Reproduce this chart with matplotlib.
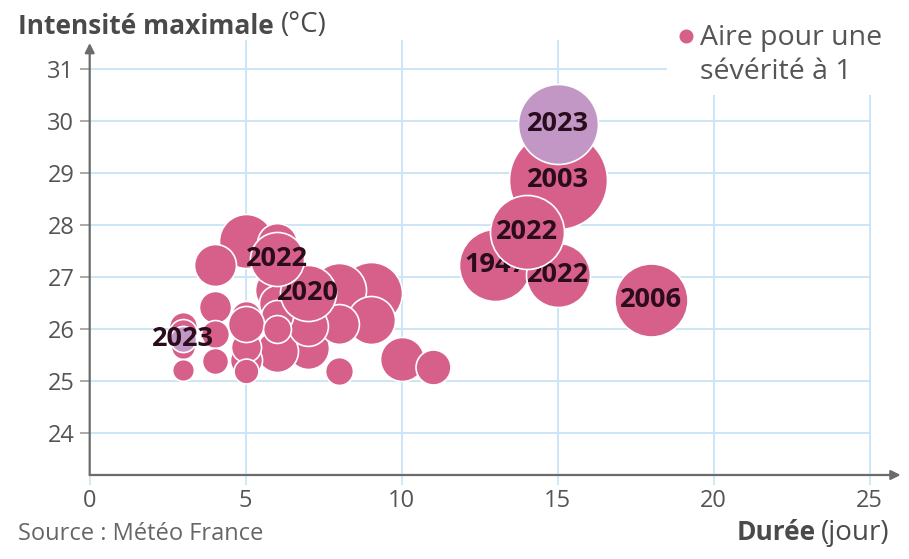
import matplotlib
matplotlib.use('Agg')
import matplotlib.pyplot as plt

plt.rcParams['font.family'] = ['Open Sans', 'DejaVu Sans']

# ---------------- data (drawing order) ----------------
duration = [9, 8, 9, 5, 6, 4, 6, 10, 7, 6, 8, 7, 6, 11, 4, 6, 5, 5, 5, 5,
            6, 4, 8, 3, 3, 4, 5, 3, 3, 3, 7, 6,
            18, 15, 15, 13, 15, 14]
intensity = [26.70, 26.75, 26.17, 27.70, 27.65, 27.23, 26.75, 25.43, 25.63, 25.58,
             26.10, 26.05, 26.50, 25.27, 26.42, 26.25, 25.40, 26.25, 25.65, 26.10,
             26.00, 25.90, 25.20, 26.05, 25.92, 25.38, 25.20, 25.65, 25.22, 25.80,
             26.70, 27.35,
             26.56, 28.87, 29.94, 27.24, 27.03, 27.87]
severity = [24.2, 18.4, 14.5, 18.4, 10.0, 11.1, 12.2, 12.2, 11.1, 11.1,
            10.0, 10.0, 8.2, 7.7, 6.5, 6.5, 6.5, 5.7, 5.7, 8.2,
            4.9, 4.9, 4.9, 4.9, 4.9, 4.3, 3.9, 3.6, 3.0, 4.3,
            19.8, 18.4,
            33.6, 60.5, 40.3, 32.7, 25.8, 34.5]
labels = [''] * 29 + ['2023', '2020', '2022',
                      '2006', '2003', '2023', '1947', '2022', '2022']

x_ticks = [0, 5, 10, 15, 20, 25]
y_ticks = [24, 25, 26, 27, 28, 29, 30, 31]

# ---------------- style ----------------
PINK = '#d6608a'
LILAC = '#c297c6'
GRID = '#c8e4f6'
AXIS = '#6b6b6b'
TXT = '#555555'
LABEL = '#2a0c1c'

W, H = 909, 559
fig = plt.figure(figsize=(W / 100, H / 100), dpi=100)

x0_px, day_px = 89.7, 31.2
y25_px, deg_px = 381.0, 52.0
xlim = (0, 26)
ybot_px, ytop_px = 475.0, 37.8
ylim = (25 - (ybot_px - y25_px) / deg_px, 25 + (y25_px - ytop_px) / deg_px)
ax = fig.add_axes([x0_px / W, (H - ybot_px) / H,
                   (xlim[1] - xlim[0]) * day_px / W, (ybot_px - ytop_px) / H])
ax.set_xlim(*xlim)
ax.set_ylim(*ylim)
for s in ax.spines.values():
    s.set_visible(False)

# grid lines
for y in y_ticks:
    xe = 18.5 if y == 31 else 25.0
    ax.plot([0, xe], [y, y], color=GRID, lw=1.3, zorder=0.5, solid_capstyle='butt')
for x in x_ticks[1:]:
    ye = 30.5 if x >= 20 else 31.55
    ax.plot([x, x], [ylim[0], ye], color=GRID, lw=1.3, zorder=0.5, solid_capstyle='butt')

# axes with arrows
ax.annotate('', xy=(25 + 0.99, ylim[0]), xytext=(0, ylim[0]),
            arrowprops=dict(arrowstyle='-|>', color=AXIS, lw=1.6, mutation_scale=14,
                            shrinkA=0, shrinkB=0), annotation_clip=False, zorder=3)
ax.annotate('', xy=(0, 31.5), xytext=(0, ylim[0]),
            arrowprops=dict(arrowstyle='-|>', color=AXIS, lw=1.6, mutation_scale=14,
                            shrinkA=0, shrinkB=0), annotation_clip=False, zorder=3)

ax.set_xticks(x_ticks)
ax.set_yticks(y_ticks)
ax.set_xticklabels([str(v) for v in x_ticks])
ax.set_yticklabels([str(v) for v in y_ticks])
ax.tick_params(axis='y', length=7, width=1.4, color='#aaaaaa', pad=4,
               labelsize=17, labelcolor=TXT)
ax.tick_params(axis='x', length=7, width=1.2, color=GRID, pad=3,
               labelsize=17, labelcolor=TXT)

# bubbles
S1 = (2 * 6.3 * 0.72) ** 2
for i, (d, t, sv, lb) in enumerate(zip(duration, intensity, severity, labels)):
    z = 5 + i
    col = LILAC if lb == '2023' else PINK
    ax.scatter([d], [t], s=sv * S1, color=col, edgecolors='white',
               linewidths=1.2, zorder=z)
    if lb:
        ax.text(d, t, lb, ha='center', va='center', fontsize=19.5,
                fontweight='bold', color=LABEL, zorder=z + 0.5)

# legend dot + text
ax.scatter([686 / W], [1 - 36 / H], s=S1, color=PINK, transform=fig.transFigure,
           clip_on=False, zorder=10)
fig.text(700 / W, 1 - 38 / H, 'Aire pour une', ha='left', va='center',
         fontsize=20.5, color=TXT)
fig.text(700 / W, 1 - 72 / H, 'sévérité à 1', ha='left', va='center',
         fontsize=20.5, color=TXT)

# titles
fig.canvas.draw()
r = fig.canvas.get_renderer()
t1 = fig.text(18 / W, 1 - 26 / H, 'Intensité maximale', ha='left', va='center',
              fontsize=19, fontweight='bold', color='#4a4a4a')
bb = t1.get_window_extent(r)
fig.text((bb.x1 + 7) / W, 1 - 25 / H, '(°C)', ha='left', va='center',
         fontsize=20, color='#4a4a4a')

t2 = fig.text(890 / W, 1 - 533 / H, '(jour)', ha='right', va='center',
              fontsize=20, color='#4a4a4a')
bb2 = t2.get_window_extent(r)
fig.text((bb2.x0 - 6) / W, 1 - 533 / H, 'Durée', ha='right', va='center',
         fontsize=19, fontweight='bold', color='#4a4a4a')

fig.text(18 / W, 1 - 534 / H, 'Source : Météo France', ha='left', va='center',
         fontsize=17, color='#666666')

fig.savefig('out.png', dpi=100)
